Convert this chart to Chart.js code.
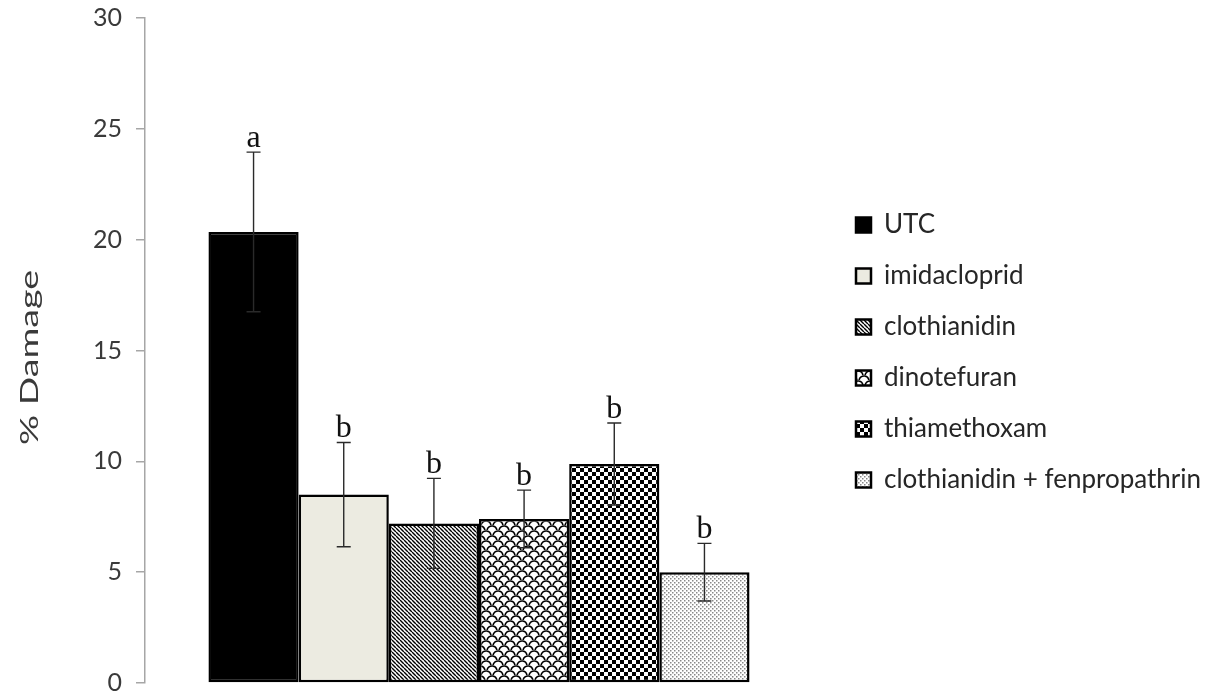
<!DOCTYPE html>
<html>
<head>
<meta charset="utf-8">
<script src="https://cdn.jsdelivr.net/npm/chart.js@4.4.1/dist/chart.umd.min.js"></script>
<style>
  html, body { margin: 0; padding: 0; background: #fff; }
  #wrap { width: 1217px; height: 696px; position: relative; }
</style>
</head>
<body>
<div id="wrap"><canvas id="chart"></canvas></div>
<script>
// treatments and readings taken off the figure
const treatments = ['UTC', 'imidacloprid', 'clothianidin', 'dinotefuran', 'thiamethoxam', 'clothianidin + fenpropathrin'];
const damage = [20.35, 8.5, 7.2, 7.4, 9.88, 5.0];
const errors = [3.6, 2.35, 2.03, 1.3, 1.85, 1.3];
const letters = ['a', 'b', 'b', 'b', 'b', 'b'];
const yTicks = [0, 5, 10, 15, 20, 25, 30];
const yTitle = '% Damage';

// little tile helper for the fill patterns
function makePattern(w, h, draw) {
    const c = document.createElement('canvas');
    c.width = w;
    c.height = h;
    const g = c.getContext('2d');
    g.fillStyle = '#fff';
    g.fillRect(0, 0, w, h);
    draw(g);
    return g.createPattern(c, 'repeat');
}

const stripes = makePattern(4, 4, g => {
    g.strokeStyle = '#000';
    g.lineWidth = 1.4;
    g.beginPath();
    for (let k = -4; k <= 8; k += 4) {
        g.moveTo(k, 0);
        g.lineTo(k + 4, 4);
    }
    g.stroke();
});

const scales = makePattern(12, 10, g => {
    g.strokeStyle = '#000';
    g.lineWidth = 1.6;
    [[6, 6], [0, 11], [12, 11]].forEach(([cx, cy]) => {
        g.beginPath();
        g.arc(cx, cy, 5, Math.PI * 1.05, Math.PI * 1.95);
        g.stroke();
    });
});

const checker = makePattern(8, 8, g => {
    g.fillStyle = '#000';
    g.fillRect(0, 0, 4, 4);
    g.fillRect(4, 4, 4, 4);
});

const dots = makePattern(4, 4, g => {
    g.fillStyle = '#888';
    g.fillRect(0, 0, 1.5, 1.5);
    g.fillRect(2, 2, 1.5, 1.5);
});

const fills = ['#000', '#ECEBE1', stripes, scales, checker, dots];

const errorBars = {
    id: 'errorBars',
    afterDatasetsDraw(chart) {
        const ctx = chart.ctx;
        const y = chart.scales.y;
        ctx.save();
        chart.data.datasets.forEach((ds, i) => {
            const bar = chart.getDatasetMeta(i).data[0];
            if (!bar) return;
            const x = bar.x;
            const hi = y.getPixelForValue(damage[i] + errors[i]);
            const lo = y.getPixelForValue(damage[i] - errors[i]);
            ctx.strokeStyle = '#2a2a2a';
            ctx.lineWidth = 1.4;
            ctx.beginPath();
            ctx.moveTo(x, hi);
            ctx.lineTo(x, lo);
            ctx.moveTo(x - 7, hi);
            ctx.lineTo(x + 7, hi);
            ctx.moveTo(x - 7, lo);
            ctx.lineTo(x + 7, lo);
            ctx.stroke();

            ctx.fillStyle = '#111';
            ctx.font = '32px "Liberation Serif", serif';
            ctx.textAlign = 'center';
            ctx.textBaseline = 'alphabetic';
            ctx.fillText(letters[i], x, hi - 5);
        });
        ctx.restore();
    }
};

// the y title in the figure is drawn tall and narrow, so stretch it
const stretchedTitle = {
    id: 'stretchedTitle',
    afterDraw(chart) {
        const ctx = chart.ctx;
        const area = chart.chartArea;
        ctx.save();
        ctx.font = '25px Lato';
        const w = ctx.measureText(yTitle).width;
        ctx.translate(30, (area.top + area.bottom) / 2 + 7);
        ctx.rotate(-Math.PI / 2);
        ctx.scale(175 / w, 1);
        ctx.fillStyle = '#3a3a3a';
        ctx.textAlign = 'center';
        ctx.textBaseline = 'middle';
        ctx.fillText(yTitle, 0, 0);
        ctx.restore();
    }
};

// Chart.js caps a side legend at a quarter of the width, which cuts the
// long label, so give it a fixed width and nudge it right
const legendFix = {
    id: 'legendFix',
    beforeLayout(chart) {
        const legend = chart.legend;
        if (legend && !legend._wrapped) {
            const fit = legend.fit;
            legend.fit = function () {
                fit.call(this);
                this.width = chart.width - 813 - 18;
            };
            legend._wrapped = true;
        }
    },
    afterLayout(chart) {
        if (chart.legend) {
            chart.legend.left += 18;
            chart.legend.right += 18;
            chart.legend.top += 2;
            chart.legend.bottom += 2;
        }
    }
};

function draw() {
    new Chart(document.getElementById('chart'), {
        type: 'bar',
        data: {
            labels: [''],
            datasets: treatments.map((name, i) => ({
                label: name,
                data: [damage[i]],
                backgroundColor: fills[i],
                borderColor: '#000',
                borderWidth: 2.5,
                borderSkipped: false
            }))
        },
        options: {
            responsive: true,
            maintainAspectRatio: false,
            animation: false,
            layout: {
                padding: { top: 18, bottom: 13, left: 10, right: 18 }
            },
            datasets: {
                bar: {
                    categoryPercentage: 0.81,
                    barPercentage: 1
                }
            },
            scales: {
                x: {
                    display: false
                },
                y: {
                    min: 0,
                    max: 30,
                    afterBuildTicks(scale) {
                        scale.ticks = yTicks.map(v => ({ value: v }));
                    },
                    afterFit(scale) {
                        scale.width = 135;
                        scale.paddingTop = 0;
                        scale.paddingBottom = 0;
                    },
                    grid: {
                        drawOnChartArea: false,
                        tickLength: 9,
                        color: '#a6a6a6',
                        lineWidth: 1.5
                    },
                    border: { color: '#a6a6a6', width: 1.5 },
                    ticks: {
                        color: '#3a3a3a',
                        padding: 14,
                        font: { size: 25, family: 'Lato' }
                    }
                }
            },
            plugins: {
                legend: {
                    position: 'right',
                    labels: {
                        boxWidth: 15,
                        boxHeight: 15,
                        padding: 25,
                        color: '#262626',
                        font: { size: 26, family: 'Lato' }
                    }
                },
                tooltip: { enabled: false }
            }
        },
        plugins: [errorBars, stretchedTitle, legendFix]
    });
}

Promise.all([
    document.fonts.load('26px Lato'),
    document.fonts.load('32px "Liberation Serif"')
]).then(draw, draw);
</script>
</body>
</html>
